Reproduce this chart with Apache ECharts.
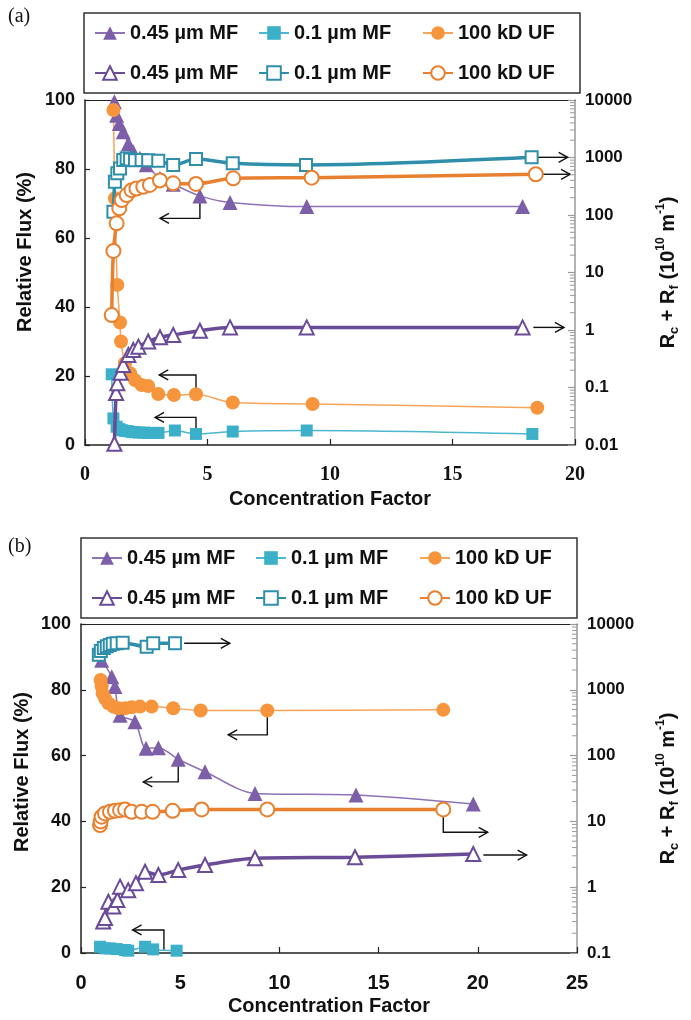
<!DOCTYPE html>
<html>
<head>
<meta charset="utf-8">
<script src="https://cdn.jsdelivr.net/npm/echarts@6/dist/echarts.min.js"></script>
<style>
  html, body { margin: 0; padding: 0; background: #fff; }
  #chart { width: 691px; height: 1020px; }
</style>
</head>
<body>
<div id="chart"></div>
<script>
// ---- panel (a) data ----
const a045FluxX = [1.2, 1.29, 1.4, 1.56, 1.77, 1.97, 2.24, 2.5, 3.06, 3.6, 4.69, 5.92, 9.05, 17.86];
const a045FluxY = [99.5, 95.6, 93.2, 90.8, 87.4, 85, 83.1, 81.2, 77.3, 75.6, 72.2, 70.3, 69.1, 69.1];
const a01FluxX = [1.09, 1.16, 1.29, 1.4, 1.5, 1.62, 1.75, 1.9, 2.05, 2.2, 2.4, 2.6, 2.8, 3.0, 3.67, 4.53, 6.03, 9.05, 18.26];
const a01FluxY = [20.5, 7.7, 5.3, 4.6, 4.3, 4.1, 4.0, 3.8, 3.7, 3.6, 3.6, 3.5, 3.5, 3.5, 4.2, 3.2, 3.9, 4.2, 3.2];
const a100FluxX = [1.16, 1.22, 1.32, 1.43, 1.47, 1.63, 1.84, 2.04, 2.31, 2.58, 2.99, 3.63, 4.53, 6.03, 9.29, 18.46];
const a100FluxY = [97.1, 71.5, 46.4, 35.5, 30, 23.7, 20.8, 18.8, 17.4, 17.1, 14.8, 14.5, 14.7, 12.3, 11.9, 10.8];
const a045ResX = [1.2, 1.27, 1.32, 1.45, 1.56, 1.77, 1.97, 2.18, 2.58, 3.06, 3.6, 4.69, 5.92, 9.05, 17.86];
const a045ResY = [0.0105, 0.08, 0.118, 0.18, 0.246, 0.367, 0.449, 0.513, 0.63, 0.75, 0.82, 0.97, 1.11, 1.11, 1.11];
const a01ResX = [1.16, 1.22, 1.32, 1.43, 1.56, 1.7, 1.84, 2.04, 2.31, 2.58, 2.99, 3.6, 4.53, 6.03, 9.02, 18.23];
const a01ResY = [114, 380, 531, 645, 905, 968, 920, 900, 905, 895, 880, 742, 940, 795, 742, 1007];
const a100ResX = [1.09, 1.16, 1.29, 1.4, 1.5, 1.7, 1.9, 2.1, 2.38, 2.65, 3.06, 3.6, 4.53, 6.05, 9.25, 18.4];
const a100ResY = [1.82, 23.7, 71.7, 131, 182, 222, 270, 288, 310, 333, 400, 355, 347, 435, 446, 511];

// ---- panel (b) data ----
const b045FluxX = [1.04, 1.55, 1.71, 1.97, 2.72, 3.28, 3.9, 4.9, 6.25, 8.77, 13.86, 19.77];
const b045FluxY = [89, 84, 81, 72.3, 70.3, 62.2, 62.4, 58.9, 55.1, 48.5, 48, 45.3];
const b01FluxX = [0.96, 1.21, 1.46, 1.8, 2.22, 2.38, 3.23, 3.64, 4.82];
const b01FluxY = [1.9, 1.4, 1.4, 1.2, 0.9, 0.7, 1.9, 1.1, 0.7];
const b100FluxX = [0.99, 1.04, 1.09, 1.21, 1.38, 1.63, 1.88, 2.22, 2.55, 2.97, 3.56, 4.65, 6.03, 9.39, 18.26];
const b100FluxY = [83, 81, 78.9, 77.4, 75.9, 74.9, 74.4, 74.4, 74.7, 74.9, 74.9, 74.4, 73.7, 73.7, 73.9];
const b045ResX = [1.12, 1.21, 1.38, 1.63, 1.83, 1.97, 2.38, 2.77, 3.23, 3.9, 4.9, 6.25, 8.77, 13.81, 19.77];
const b045ResY = [0.3, 0.34, 0.6, 0.51, 0.64, 1.02, 0.9, 1.15, 1.72, 1.53, 1.82, 2.17, 2.75, 2.85, 3.2];
const b01ResX = [0.9, 1.0, 1.15, 1.3, 1.45, 1.6, 1.8, 2.1, 3.31, 3.64, 4.74];
const b01ResY = [3400, 3900, 4300, 4600, 4800, 5000, 5100, 5200, 4500, 5100, 5100];
const b100ResX = [0.96, 0.99, 1.04, 1.21, 1.46, 1.71, 1.97, 2.22, 2.55, 3.06, 3.61, 4.62, 6.08, 9.39, 18.26];
const b100ResY = [8.8, 10, 11.8, 13.2, 14, 14.5, 14.8, 15.2, 14, 14, 14, 14.5, 15.2, 15.2, 15.2];

// arrows pointing to the axis each curve belongs to (data coords)
const aArrowsLeft = [
  [[4.69, 71.3], [4.69, 65.7], [3.06, 65.7]],
  [[4.53, 14.7], [4.53, 20.3], [3.03, 20.3]],
  [[4.53, 3.2], [4.53, 8], [2.86, 8]]
];
const aArrowsRight = [
  [[18.45, 1007], [19.7, 1007]],
  [[18.6, 511], [19.8, 511]],
  [[18.3, 1.11], [19.55, 1.11]]
];
const bArrowsLeft = [
  [[9.39, 73.7], [9.39, 66.3], [7.42, 66.3]],
  [[4.9, 58.9], [4.9, 52], [3.14, 52]],
  [[4.18, 1.0], [4.18, 7], [2.6, 7]]
];
const bArrowsRight = [
  [[5.2, 5090], [7.5, 5090]],
  [[18.26, 15.2], [18.26, 6.83], [20.5, 6.83]],
  [[20.28, 3.08], [22.46, 3.08]]
];

const legendNames = ['f045', 'f01', 'f100', 'o045', 'o01', 'o100'];
const legendText = {
  f045: '0.45 µm MF', f01: '0.1 µm MF', f100: '100 kD UF',
  o045: '0.45 µm MF', o01: '0.1 µm MF', o100: '100 kD UF'
};
const minorMult = [2, 3, 4, 5, 6, 7, 8, 9];

const FONT = '"Liberation Sans", Arial, sans-serif';
const SERIF = '"Liberation Serif", "Times New Roman", serif';
const PURPLE = '#7d5fa9', PURPLE_LINE = '#8d72b8', PURPLE_DARK = '#6a4b98';
const TEAL = '#3cb0c9', TEAL_LINE = '#4cb7ce', TEAL_DARK = '#2f8fab';
const ORANGE = '#f6953b', ORANGE_LINE = '#f7a458', ORANGE_DARK = '#e8802f';

const zip = (xs, ys) => xs.map((x, i) => [x, ys[i]]);

function filled(name, xs, ys, xi, yi, symbol, size, color, lineColor) {
  return {
    type: 'line', name, xAxisIndex: xi, yAxisIndex: yi, data: zip(xs, ys),
    symbol, symbolSize: size, smooth: 0.3, z: 3,
    itemStyle: { color },
    lineStyle: { color: lineColor, width: 1.5 }
  };
}
function open(name, xs, ys, xi, yi, symbol, size, color) {
  return {
    type: 'line', name, xAxisIndex: xi, yAxisIndex: yi, data: zip(xs, ys),
    symbol, symbolSize: size, smooth: 0.3, z: 4,
    itemStyle: { color, borderWidth: 1.6 },
    lineStyle: { color, width: 3.5 }
  };
}

function arrowSeries(paths, xi, yi) {
  return {
    type: 'custom', xAxisIndex: xi, yAxisIndex: yi, silent: true, z: 2,
    data: paths.map(p => p[0]),
    renderItem(params, api) {
      const pts = paths[params.dataIndex].map(p => api.coord(p));
      const n = pts.length;
      const [x1, y1] = pts[n - 2], [x2, y2] = pts[n - 1];
      const a = Math.atan2(y2 - y1, x2 - x1), L = 9, W = 5;
      const c = Math.cos(a), s = Math.sin(a);
      const head = [[x2 - L * c + W * s, y2 - L * s - W * c], [x2, y2], [x2 - L * c - W * s, y2 - L * s + W * c]];
      const st = { stroke: '#111', lineWidth: 1.4, fill: null };
      return { type: 'group', children: [
        { type: 'polyline', shape: { points: pts }, style: st },
        { type: 'polyline', shape: { points: head }, style: st }
      ] };
    }
  };
}

// true log-spaced minor ticks on the right axis (2..9 x each decade)
function minorTickSeries(xMax, decades, xi, yi) {
  const vals = [];
  decades.forEach(d => minorMult.forEach(m => vals.push([xMax, m * Math.pow(10, d)])));
  return {
    type: 'custom', xAxisIndex: xi, yAxisIndex: yi, silent: true, z: 5, data: vals,
    renderItem(params, api) {
      const p = api.coord([api.value(0), api.value(1)]);
      return { type: 'line', shape: { x1: p[0] - 5, y1: p[1], x2: p[0], y2: p[1] },
        style: { stroke: '#9a9a9a', lineWidth: 1 } };
    }
  };
}

const dark = { color: '#222', width: 1.5 };
function xAxisBottom(grid, max, labelFont, gap) {
  return {
    gridIndex: grid, type: 'value', min: 0, max, interval: 5, position: 'bottom',
    axisLine: { onZero: false, lineStyle: dark },
    axisTick: { inside: true, length: 6, lineStyle: { color: '#222', width: 1.2 } },
    axisLabel: { fontFamily: labelFont, fontWeight: 'bold', fontSize: 20, color: '#111', margin: 20 },
    splitLine: { show: false }, minorTick: { show: false },
    name: 'Concentration Factor', nameLocation: 'middle', nameGap: gap,
    nameTextStyle: { fontFamily: FONT, fontWeight: 'bold', fontSize: 20, color: '#111' }
  };
}
function xAxisTop(grid, max) {
  return {
    gridIndex: grid, type: 'value', min: 0, max, position: 'top',
    axisLine: { onZero: false, lineStyle: { color: '#222', width: 1.2 } },
    axisTick: { show: false }, axisLabel: { show: false }, splitLine: { show: false }
  };
}
function yAxisLeft(grid) {
  return {
    gridIndex: grid, type: 'value', min: 0, max: 100, interval: 20, position: 'left',
    axisLine: { show: true, onZero: false, lineStyle: dark },
    axisTick: { show: true, inside: true, length: 5, lineStyle: { color: '#222', width: 1.2 } },
    axisLabel: { fontFamily: FONT, fontWeight: 'bold', fontSize: 18, color: '#111', margin: 10 },
    splitLine: { show: false }, minorTick: { show: false }
  };
}
const resName = '{m|R}{s|c}{m| + R}{s|f}{m| (10}{p|10}{m| m}{p|-1}{m|)}';
function yAxisRight(grid, min, max, split, gap) {
  return {
    gridIndex: grid, type: 'log', logBase: 10, min, max, splitNumber: split, position: 'right',
    axisLine: { show: true, onZero: false, lineStyle: { color: '#9a9a9a', width: 1.5 } },
    axisTick: { show: true, inside: true, length: 7, lineStyle: { color: '#9a9a9a', width: 1.2 } },
    axisLabel: {
      fontFamily: FONT, fontWeight: 'bold', fontSize: 17, color: '#111', margin: 10,
      formatter: v => String(+(+v).toPrecision(6))
    },
    splitLine: { show: false }, minorTick: { show: false },
    name: resName, nameLocation: 'middle', nameGap: gap,
    nameTextStyle: {
      color: '#111',
      rich: {
        m: { fontFamily: FONT, fontWeight: 'bold', fontSize: 20, color: '#111', verticalAlign: 'middle', lineHeight: 26 },
        s: { fontFamily: FONT, fontWeight: 'bold', fontSize: 13, color: '#111', verticalAlign: 'bottom', lineHeight: 26 },
        p: { fontFamily: FONT, fontWeight: 'bold', fontSize: 12, color: '#111', verticalAlign: 'top', lineHeight: 26 }
      }
    }
  };
}
function legendBox(left, top) {
  return {
    data: legendNames, left, top, width: 500, orient: 'horizontal',
    itemWidth: 30, itemHeight: 17, itemGap: 16, padding: [8, 10, 8, 10],
    borderColor: '#333', borderWidth: 1.5, selectedMode: false,
    formatter: n => legendText[n],
    textStyle: { fontFamily: FONT, fontWeight: 'bold', fontSize: 20, color: '#111',
      width: 112, overflow: 'truncate', lineHeight: 24 }
  };
}

const chart = echarts.init(document.getElementById('chart'), null, { renderer: 'canvas' });
chart.setOption({
  backgroundColor: '#fff',
  animation: false,
  grid: [
    { left: 85, top: 100, width: 490, height: 345, containLabel: false, outerBoundsMode: 'none' },
    { left: 81, top: 624, width: 496, height: 329, containLabel: false, outerBoundsMode: 'none' }
  ],
  legend: [legendBox(84, 13), legendBox(81, 538)],
  xAxis: [
    xAxisBottom(0, 20, SERIF, 44), xAxisTop(0, 20),
    xAxisBottom(1, 25, FONT, 43), xAxisTop(1, 25)
  ],
  yAxis: [
    yAxisLeft(0), yAxisRight(0, 0.01, 10000, 6, 80),
    yAxisLeft(1), yAxisRight(1, 0.1, 10000, 5, 78)
  ],
  graphic: [
    { type: 'text', left: 8, top: 7, style: { text: '(a)', font: '20px ' + SERIF, fill: '#111' } },
    { type: 'text', left: 8, top: 537, style: { text: '(b)', font: '20px ' + SERIF, fill: '#111' } },
    { type: 'text', x: 25, y: 252, rotation: Math.PI / 2,
      style: { text: 'Relative Flux (%)', font: 'bold 20px ' + FONT, fill: '#111', align: 'center', verticalAlign: 'middle' } },
    { type: 'text', x: 22, y: 772, rotation: Math.PI / 2,
      style: { text: 'Relative Flux (%)', font: 'bold 20px ' + FONT, fill: '#111', align: 'center', verticalAlign: 'middle' } }
  ],
  series: [
    // panel (a)
    filled('f045', a045FluxX, a045FluxY, 0, 0, 'triangle', 15, PURPLE, PURPLE_LINE),
    filled('f01', a01FluxX, a01FluxY, 0, 0, 'rect', 12, TEAL, TEAL_LINE),
    filled('f100', a100FluxX, a100FluxY, 0, 0, 'circle', 14, ORANGE, ORANGE_LINE),
    open('o045', a045ResX, a045ResY, 0, 1, 'emptyTriangle', 14, PURPLE_DARK),
    open('o01', a01ResX, a01ResY, 0, 1, 'emptyRect', 12, TEAL_DARK),
    open('o100', a100ResX, a100ResY, 0, 1, 'emptyCircle', 14, ORANGE_DARK),
    arrowSeries(aArrowsLeft, 0, 0),
    arrowSeries(aArrowsRight, 0, 1),
    minorTickSeries(20, [-2, -1, 0, 1, 2, 3], 0, 1),
    // panel (b)
    filled('f045', b045FluxX, b045FluxY, 2, 2, 'triangle', 15, PURPLE, PURPLE_LINE),
    filled('f01', b01FluxX, b01FluxY, 2, 2, 'rect', 12, TEAL, TEAL_LINE),
    filled('f100', b100FluxX, b100FluxY, 2, 2, 'circle', 14, ORANGE, ORANGE_LINE),
    open('o045', b045ResX, b045ResY, 2, 3, 'emptyTriangle', 14, PURPLE_DARK),
    open('o01', b01ResX, b01ResY, 2, 3, 'emptyRect', 12, TEAL_DARK),
    open('o100', b100ResX, b100ResY, 2, 3, 'emptyCircle', 14, ORANGE_DARK),
    arrowSeries(bArrowsLeft, 2, 2),
    arrowSeries(bArrowsRight, 2, 3),
    minorTickSeries(25, [-1, 0, 1, 2, 3], 2, 3)
  ]
});
</script>
</body>
</html>
